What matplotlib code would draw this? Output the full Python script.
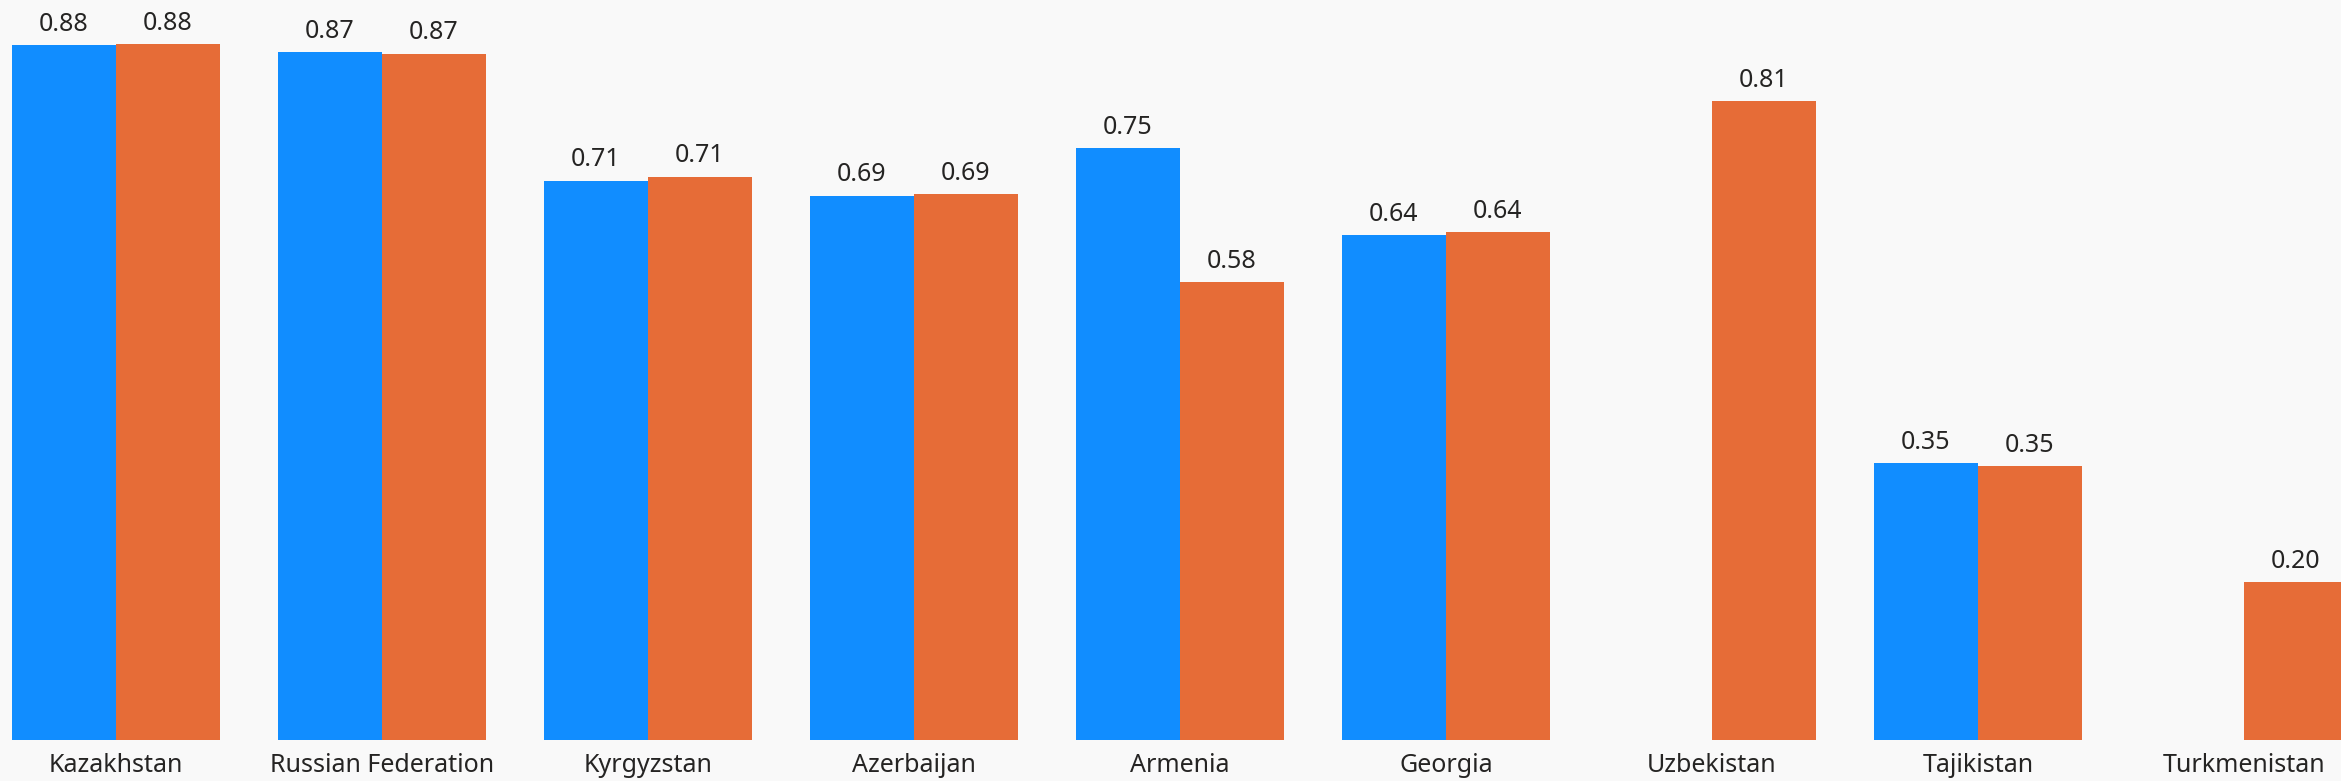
import matplotlib
matplotlib.use("Agg")
import matplotlib.pyplot as plt
import numpy as np

countries = ["Kazakhstan", "Russian Federation", "Kyrgyzstan", "Azerbaijan",
             "Armenia", "Georgia", "Uzbekistan", "Tajikistan", "Turkmenistan"]
series_a = [0.881, 0.872, 0.709, 0.690, 0.750, 0.640, np.nan, 0.351, np.nan]
series_b = [0.882, 0.870, 0.714, 0.692, 0.580, 0.644, 0.810, 0.347, 0.200]

BLUE = "#118DFF"
ORANGE = "#E66C37"
BG = "#F9F9F9"
TXT = "#252423"

plt.rcParams["font.family"] = ["Noto Sans", "DejaVu Sans"]

fig = plt.figure(figsize=(23.41, 7.81), dpi=100, facecolor=BG)
ax = fig.add_axes([0, 41 / 781, 1, 740 / 781])
ax.set_facecolor(BG)

x = np.arange(len(countries))
w = 104 / 266

bars_a = ax.bar(x - w / 2, series_a, width=w, color=BLUE, linewidth=0)
bars_b = ax.bar(x + w / 2, series_b, width=w, color=ORANGE, linewidth=0)

for bars, vals in ((bars_a, series_a), (bars_b, series_b)):
    for rect, v in zip(bars, vals):
        if np.isnan(v):
            continue
        ax.annotate(f"{v:.2f}", (rect.get_x() + rect.get_width() / 2, v),
                    xytext=(0, 6), textcoords="offset points",
                    ha="center", va="bottom", fontsize=18, color=TXT)

ax.set_xlim(-116 / 266, (2341 - 116) / 266)
ax.set_ylim(0, 740 / 789)
ax.set_xticks(x)
ax.set_xticklabels(countries, fontsize=18, color=TXT)
ax.tick_params(axis="x", length=0, pad=9)
ax.set_yticks([])
for s in ax.spines.values():
    s.set_visible(False)

fig.savefig("out.png", dpi=100, facecolor=BG)
